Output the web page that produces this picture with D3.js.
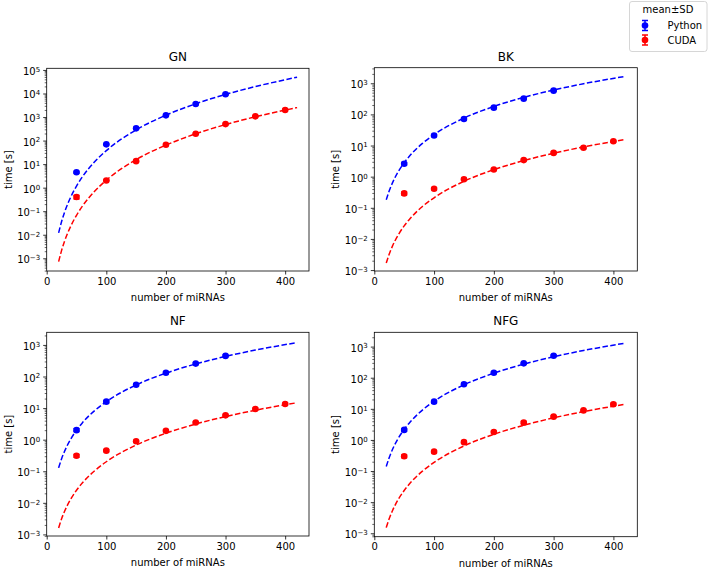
<!DOCTYPE html>
<html><head><meta charset="utf-8">
<script src="https://cdn.jsdelivr.net/npm/d3@7"></script>
<style>body{margin:0;background:#fff} svg{display:block;font-family:"DejaVu Sans",sans-serif}</style>
</head><body><svg id="c" width="709" height="567"></svg>
<script>
// ---- data ----
const panelNames = ["GN", "BK", "NF", "NFG"];
const seriesNames = ["Python", "CUDA"];
const xTicks = [0, 100, 200, 300, 400];
const nPython = [50, 100, 150, 200, 250, 300];
const nCuda = [50, 100, 150, 200, 250, 300, 350, 400];
const nFit = [20, 25, 30, 40, 50, 60, 80, 100, 150, 200, 250, 300, 350, 420];

const gnPython = [4.5, 69, 330, 1180, 3560, 9300];
const gnPythonSD = [0.4, 4, 25, 80, 250, 600];
const gnCuda = [0.4, 2.0, 13.4, 66, 195, 500, 1070, 2000];
const gnCudaSD = [0.07, 0.1, 0.8, 4, 10, 25, 60, 120];
const gnPythonFit = [0.012, 0.0366, 0.0911, 0.384, 1.17, 2.92, 12.3, 37.5, 285, 1200, 3660, 9110, 19700, 49000];
const gnCudaFit = [7.2e-4, 2.17e-3, 5.36e-3, 0.0222, 0.0671, 0.166, 0.687, 2.07, 15.5, 64.1, 194, 478, 1023, 2520];

const bkPython = [2.6, 21, 71, 165, 320, 580];
const bkPythonSD = [0.25, 1.5, 5, 10, 15, 30];
const bkCuda = [0.29, 0.41, 0.83, 1.7, 3.4, 5.8, 8.5, 13.7];
const bkCudaSD = [0.03, 0.03, 0.06, 0.1, 0.2, 0.35, 0.5, 0.8];
const bkPythonFit = [0.18, 0.352, 0.608, 1.44, 2.81, 4.86, 11.5, 22.5, 75.9, 180, 352, 608, 965, 1667];
const bkCudaFit = [1.68e-3, 3.28e-3, 5.67e-3, 0.0134, 0.0263, 0.0454, 0.108, 0.21, 0.709, 1.68, 3.28, 5.67, 9.0, 15.6];

const nfPython = [2.0, 16, 55, 132, 256, 450];
const nfPythonSD = [0.2, 1.2, 4, 8, 15, 30];
const nfCuda = [0.31, 0.45, 0.89, 1.9, 3.5, 5.9, 9.4, 13.5];
const nfCudaSD = [0.03, 0.03, 0.06, 0.1, 0.2, 0.35, 0.5, 0.8];
const nfPythonFit = [0.128, 0.25, 0.432, 1.02, 2.0, 3.46, 8.19, 16, 54, 128, 250, 432, 686, 1185];
const nfCudaFit = [1.6e-3, 3.13e-3, 5.4e-3, 0.0128, 0.025, 0.0432, 0.102, 0.2, 0.675, 1.6, 3.13, 5.4, 8.58, 14.8];

const nfgPython = [2.1, 17, 62, 145, 290, 510];
const nfgPythonSD = [0.2, 1.2, 4, 8, 15, 30];
const nfgCuda = [0.30, 0.42, 0.85, 1.8, 3.6, 5.6, 8.9, 14];
const nfgCudaSD = [0.03, 0.03, 0.06, 0.1, 0.3, 0.35, 0.5, 1.0];
const nfgPythonFit = [0.14, 0.273, 0.4725, 1.12, 2.19, 3.78, 8.96, 17.5, 59.1, 140, 273, 473, 750, 1297];
const nfgCudaFit = [1.52e-3, 2.97e-3, 5.13e-3, 0.0122, 0.0238, 0.041, 0.0973, 0.19, 0.641, 1.52, 2.97, 5.13, 8.15, 14.1];

const colors = ["#0000ff", "#ff0000"];

// ---- layout ----
const panels = [
  {name: panelNames[0], l: 46.7, r: 309, t: 68.3, b: 271, y0: -3.54, y1: 5.07,
   py: gnPython, psd: gnPythonSD, cy: gnCuda, csd: gnCudaSD, pf: gnPythonFit, cf: gnCudaFit},
  {name: panelNames[1], l: 374.3, r: 637.3, t: 67.7, b: 271, y0: -3.03, y1: 3.5,
   py: bkPython, psd: bkPythonSD, cy: bkCuda, csd: bkCudaSD, pf: bkPythonFit, cf: bkCudaFit},
  {name: panelNames[2], l: 46.7, r: 309, t: 332.3, b: 536, y0: -3.05, y1: 3.4,
   py: nfPython, psd: nfPythonSD, cy: nfCuda, csd: nfCudaSD, pf: nfPythonFit, cf: nfCudaFit},
  {name: panelNames[3], l: 374.3, r: 637.3, t: 332.3, b: 536.7, y0: -3.11, y1: 3.46,
   py: nfgPython, psd: nfgPythonSD, cy: nfgCuda, csd: nfgCudaSD, pf: nfgPythonFit, cf: nfgCudaFit}
];

const svg = d3.select("#c");
svg.append("rect").attr("width", 709).attr("height", 567).attr("fill", "#fff");

function supLabel(sel, e) {
  sel.text(null);
  sel.append("tspan").text("10");
  sel.append("tspan").attr("dy", "-0.45em").attr("font-size", "7px")
    .text(e < 0 ? "\u2212" + (-e) : String(e));
}

panels.forEach(p => {
  const g = svg.append("g");
  const x = d3.scaleLinear().domain([0, 440]).range([p.l, p.r]);
  const y = d3.scaleLog().domain([Math.pow(10, p.y0), Math.pow(10, p.y1)]).range([p.b, p.t]);

  const clipId = "clip" + p.name;
  svg.append("clipPath").attr("id", clipId).append("rect")
    .attr("x", p.l).attr("y", p.t).attr("width", p.r - p.l).attr("height", p.b - p.t);

  // x axis
  const xa = g.append("g").attr("transform", `translate(0,${p.b})`)
    .call(d3.axisBottom(x).tickValues(xTicks).tickSize(3.5).tickSizeOuter(0).tickPadding(3));
  xa.select(".domain").remove();
  xa.selectAll("line").attr("stroke", "#000").attr("stroke-width", 0.8);
  xa.selectAll("text").attr("font-size", "10px").attr("font-family", "DejaVu Sans").attr("fill", "#000");

  // y axis major
  const majors = d3.range(Math.ceil(p.y0), Math.floor(p.y1) + 1).map(e => Math.pow(10, e));
  const minors = [];
  for (let e = Math.floor(p.y0); e <= Math.ceil(p.y1); e++) {
    for (let k = 2; k <= 9; k++) {
      const v = k * Math.pow(10, e);
      if (Math.log10(v) >= p.y0 && Math.log10(v) <= p.y1) minors.push(v);
    }
  }
  const ya = g.append("g").attr("transform", `translate(${p.l},0)`)
    .call(d3.axisLeft(y).tickValues(majors).tickSize(3.5).tickSizeOuter(0).tickPadding(3));
  ya.select(".domain").remove();
  ya.selectAll("line").attr("stroke", "#000").attr("stroke-width", 0.8);
  ya.selectAll("text").attr("font-size", "10px").attr("font-family", "DejaVu Sans").attr("fill", "#000")
    .attr("dy", "0.45em")
    .each(function(d) { supLabel(d3.select(this), Math.round(Math.log10(d))); });
  const ym = g.append("g").attr("transform", `translate(${p.l},0)`)
    .call(d3.axisLeft(y).tickValues(minors).tickSize(2).tickSizeOuter(0).tickFormat(""));
  ym.select(".domain").remove();
  ym.selectAll("line").attr("stroke", "#000").attr("stroke-width", 0.6);

  // frame
  g.append("rect").attr("x", p.l).attr("y", p.t).attr("width", p.r - p.l).attr("height", p.b - p.t)
    .attr("fill", "none").attr("stroke", "#000").attr("stroke-width", 0.8);

  // title & labels
  g.append("text").attr("x", (p.l + p.r) / 2).attr("y", p.t - 7).attr("text-anchor", "middle")
    .attr("font-size", "12px").text(p.name);
  g.append("text").attr("x", (p.l + p.r) / 2).attr("y", p.b + 30).attr("text-anchor", "middle")
    .attr("font-size", "10px").text("number of miRNAs");
  g.append("text").attr("transform", `translate(${p.l - 35},${(p.t + p.b) / 2}) rotate(-90)`)
    .attr("text-anchor", "middle").attr("font-size", "10px").text("time [s]");

  // fits
  const line = d3.line().x(d => x(d[0])).y(d => y(d[1])).curve(d3.curveMonotoneX);
  const plot = g.append("g").attr("clip-path", `url(#${clipId})`);
  [[p.pf, 0], [p.cf, 1]].forEach(([fit, i]) => {
    plot.append("path").attr("d", line(nFit.map((n, j) => [n, fit[j]])))
      .attr("fill", "none").attr("stroke", colors[i]).attr("stroke-width", 1.5)
      .attr("stroke-dasharray", "5.5,2.4");
  });

  // points with error bars
  [[nPython, p.py, p.psd, 0], [nCuda, p.cy, p.csd, 1]].forEach(([ns, ms, sds, i]) => {
    const pts = ns.map((n, j) => ({n, m: ms[j], s: sds[j]}));
    const eg = plot.selectAll(null).data(pts).enter().append("g");
    eg.append("line").attr("x1", d => x(d.n)).attr("x2", d => x(d.n))
      .attr("y1", d => y(d.m - d.s)).attr("y2", d => y(d.m + d.s))
      .attr("stroke", colors[i]).attr("stroke-width", 1.5);
    [-1, 1].forEach(sg => {
      eg.append("line").attr("x1", d => x(d.n) - 3).attr("x2", d => x(d.n) + 3)
        .attr("y1", d => y(d.m + sg * d.s)).attr("y2", d => y(d.m + sg * d.s))
        .attr("stroke", colors[i]).attr("stroke-width", 1.5);
    });
    eg.append("circle").attr("cx", d => x(d.n)).attr("cy", d => y(d.m)).attr("r", 3.3)
      .attr("fill", colors[i]);
  });
});

// legend
const lg = svg.append("g");
lg.append("rect").attr("x", 629.5).attr("y", 1.5).attr("width", 77.5).attr("height", 50).attr("rx", 2.5)
  .attr("fill", "#fff").attr("stroke", "#ccc").attr("stroke-width", 0.8);
lg.append("text").attr("x", 668).attr("y", 13).attr("text-anchor", "middle").attr("font-size", "10px")
  .text("mean\u00b1SD");
seriesNames.forEach((s, i) => {
  const cy = 25.5 + i * 14.5;
  const cx = 645;
  lg.append("line").attr("x1", cx).attr("x2", cx).attr("y1", cy - 5).attr("y2", cy + 5)
    .attr("stroke", colors[i]).attr("stroke-width", 1.5);
  [-5, 5].forEach(o => lg.append("line").attr("x1", cx - 3).attr("x2", cx + 3).attr("y1", cy + o).attr("y2", cy + o)
    .attr("stroke", colors[i]).attr("stroke-width", 1.5));
  lg.append("circle").attr("cx", cx).attr("cy", cy).attr("r", 3.3).attr("fill", colors[i]);
  lg.append("text").attr("x", 667.5).attr("y", cy + 3.6).attr("font-size", "10px").text(s);
});
</script></body></html>
